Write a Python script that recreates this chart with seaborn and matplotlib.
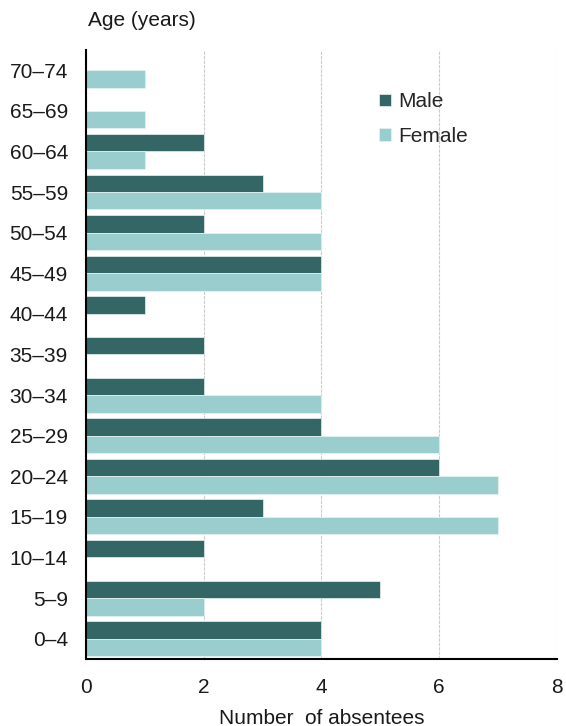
import pandas as pd
import matplotlib.pyplot as plt
import seaborn as sns

# data (top row first)
ages = ["70–74", "65–69", "60–64", "55–59", "50–54", "45–49", "40–44", "35–39",
        "30–34", "25–29", "20–24", "15–19", "10–14", "5–9", "0–4"]
male = [0, 0, 2, 3, 2, 4, 1, 2, 2, 4, 6, 3, 2, 5, 4]
female = [1, 1, 1, 4, 4, 4, 0, 0, 4, 6, 7, 7, 0, 2, 4]

MALE_C = "#346666"; FEMALE_C = "#9ACDCD"

df = pd.DataFrame({"Age": ages * 2,
                   "Sex": ["Male"] * len(ages) + ["Female"] * len(ages),
                   "Count": male + female})

sns.set_style("white")
plt.rcParams["font.family"] = ["Liberation Sans", "DejaVu Sans"]
FS = 15

fig = plt.figure(figsize=(5.66, 7.26), dpi=100)
ax = fig.add_axes([0.152, 0.0923, 0.832, 0.839])

sns.barplot(data=df, x="Count", y="Age", hue="Sex", order=ages,
            hue_order=["Male", "Female"], palette=[MALE_C, FEMALE_C],
            saturation=1, width=0.86, edgecolor="#e8f4f4", linewidth=0.5, ax=ax)

ax.set_xlim(0, 8)
ax.set_xticks([0, 2, 4, 6, 8])
ax.grid(axis="x", color="#cccccc", lw=0.8, ls=(0, (3, 1)))
ax.set_axisbelow(True)
for s in ["top", "right"]:
    ax.spines[s].set_visible(False)
for s in ["left", "bottom"]:
    ax.spines[s].set_color("black")
    ax.spines[s].set_linewidth(1.5)
ax.tick_params(axis="both", labelsize=FS, length=0, colors="#1a1a1a")
ax.tick_params(axis="y", pad=13)
ax.tick_params(axis="x", pad=14)
ax.set_ylabel("")
ax.set_xlabel("Number  of absentees", fontsize=FS, labelpad=8, color="#1a1a1a")
fig.text(0.155, 0.972, "Age (years)", fontsize=FS, ha="left", va="center", color="#1a1a1a")

leg = ax.legend(loc="upper left", bbox_to_anchor=(0.583, 0.961), frameon=False,
                fontsize=FS, handlelength=0.55, handleheight=0.55,
                labelspacing=0.75, handletextpad=0.35)

plt.savefig("out.png", dpi=100)
